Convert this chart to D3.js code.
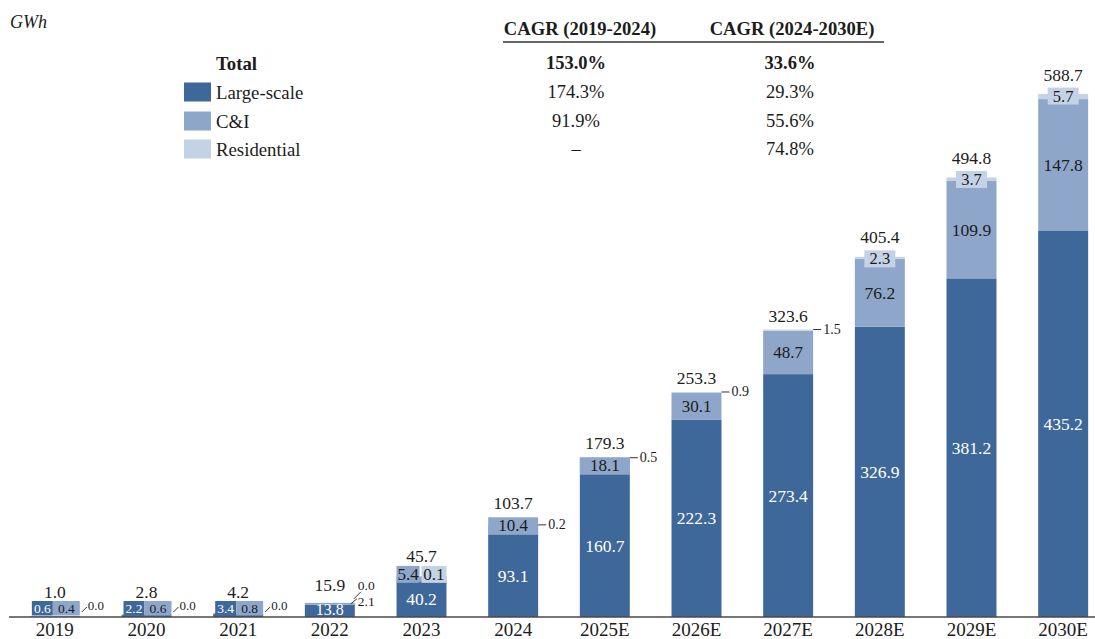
<!DOCTYPE html>
<html>
<head>
<meta charset="utf-8">
<script src="https://cdn.jsdelivr.net/npm/d3@7"></script>
<style>
  html, body { margin: 0; padding: 0; background: #ffffff; }
  svg { display: block; }
</style>
</head>
<body>
<svg id="chart" width="1095" height="639"></svg>
<script>
// Energy storage shipments by segment, GWh
const years = ["2019", "2020", "2021", "2022", "2023", "2024", "2025E", "2026E", "2027E", "2028E", "2029E", "2030E"];
const largeScale = [0.6, 2.2, 3.4, 13.8, 40.2, 93.1, 160.7, 222.3, 273.4, 326.9, 381.2, 435.2];
const cni = [0.4, 0.6, 0.8, 2.1, 5.4, 10.4, 18.1, 30.1, 48.7, 76.2, 109.9, 147.8];
const residential = [0.0, 0.0, 0.0, 0.0, 0.1, 0.2, 0.5, 0.9, 1.5, 2.3, 3.7, 5.7];
const totals = [1.0, 2.8, 4.2, 15.9, 45.7, 103.7, 179.3, 253.3, 323.6, 405.4, 494.8, 588.7];

const legendRows = ["Total", "Large-scale", "C&I", "Residential"];
const cagrHeaders = ["CAGR (2019-2024)", "CAGR (2024-2030E)"];
const cagrEarly = ["153.0%", "174.3%", "91.9%", "–"];
const cagrLate = ["33.6%", "29.3%", "55.6%", "74.8%"];
const unitLabel = "GWh";

const keys = ["large", "cni", "res"];
const colors = { large: "#3e6899", cni: "#8ea6c9", res: "#c4d2e6" };
const FONT = "'Liberation Serif', 'Times New Roman', serif";
const INK = "#1c1c1c";

const table = years.map((yr, i) => ({ year: yr, large: largeScale[i], cni: cni[i], res: residential[i] }));

const svg = d3.select("#chart");
const baseY = 617;

const x = d3.scaleBand().domain(years).range([9, 1109]).paddingInner(0.455).paddingOuter(0.2275);
const y = d3.scaleLinear().domain([0, 600]).range([baseY, 84]);
const bw = x.bandwidth();

// stacked bars
const series = d3.stack().keys(keys)(table);
svg.append("g").selectAll("g").data(series).join("g")
  .attr("fill", d => colors[d.key])
  .selectAll("rect").data(d => d).join("rect")
  .attr("x", d => x(d.data.year))
  .attr("width", bw)
  .attr("y", d => y(d[1]))
  .attr("height", d => Math.max(0, y(d[0]) - y(d[1])));

// x axis: category labels sit just under the baseline
const xAxis = svg.append("g").attr("transform", `translate(0,${baseY})`)
  .call(d3.axisBottom(x).tickSize(0).tickPadding(0));
xAxis.select(".domain").remove();
xAxis.selectAll("text").attr("font-family", FONT).attr("font-size", 19).attr("fill", INK)
  .attr("y", 19).attr("dy", null).attr("dominant-baseline", "auto");
svg.append("line").attr("x1", 9).attr("x2", 1095).attr("y1", baseY).attr("y2", baseY)
  .attr("stroke", "#4a4a4a").attr("stroke-width", 1.6);

const labels = svg.append("g").attr("font-family", FONT);

function text(xp, yp, str, opts = {}) {
  return labels.append("text")
    .attr("x", xp).attr("y", yp)
    .attr("text-anchor", opts.anchor || "middle")
    .attr("dominant-baseline", opts.baseline || "central")
    .attr("font-size", opts.size || 16)
    .attr("font-weight", opts.weight || "normal")
    .attr("fill", opts.fill || INK)
    .text(str);
}
function box(x0, y0, w, h, fill) {
  labels.append("rect").attr("x", x0).attr("y", y0).attr("width", w).attr("height", h).attr("fill", fill);
}
function leader(x1, y1, x2, y2) {
  labels.append("line").attr("x1", x1).attr("y1", y1).attr("x2", x2).attr("y2", y2)
    .attr("stroke", "#333").attr("stroke-width", 1);
}
const fmt = d3.format(".1f");

function mode(i) {
  if (largeScale[i] < 10) return "tiny";
  if (largeScale[i] < 20) return "low";
  if (cni[i] < 8) return "pair";
  if (residential[i] < 2) return "side";
  return "cap";
}

years.forEach((yr, i) => {
  const x0 = x(yr), x1 = x0 + bw, cx = x0 + bw / 2;
  const yTop = y(totals[i]);
  const yLarge = y(largeScale[i]);
  const m = mode(i);
  let topEdge = yTop;

  if (m === "tiny") {
    // values too small to show: side-by-side value chips on the axis
    const mid = x0 + bw * 0.46;
    const bt = baseY - 16, bh = 14.5;
    box(x0 + 2, bt, mid - x0 - 2, bh, colors.large);
    box(mid, bt, x1 - mid, bh, colors.cni);
    text((x0 + 2 + mid) / 2, bt + bh / 2, fmt(largeScale[i]), { size: 13.5, fill: "#fff" });
    text((mid + x1) / 2, bt + bh / 2, fmt(cni[i]), { size: 13.5 });
    leader(x1 + 2, baseY - 5, x1 + 7, baseY - 10);
    text(x1 + 8, baseY - 12, fmt(residential[i]), { size: 13, anchor: "start" });
    text(cx, bt - 3, fmt(totals[i]), { size: 17.5, baseline: "auto" });
    return;
  }

  if (m === "low") {
    text(cx, (yLarge + baseY) / 2 - 1, fmt(largeScale[i]), { size: 16, fill: "#fff" });
    leader(x1 - 4, yTop + 1, x1 + 2, yTop - 4);
    text(x1 + 3, yTop - 1, fmt(cni[i]), { size: 13.5, anchor: "start" });
    leader(x1 - 1, yTop - 4, x1 + 6, yTop - 11);
    text(x1 + 3, yTop - 17, fmt(residential[i]), { size: 13.5, anchor: "start" });
    text(cx, yTop - 12, fmt(totals[i]), { size: 17.5, baseline: "auto" });
    return;
  }

  // large-scale value inside its segment
  text(cx, (yLarge + baseY) / 2, fmt(largeScale[i]), { size: 17.5, fill: "#fff" });

  if (m === "pair") {
    const mid = cx - 1;
    const bt = yTop - 10.5, bh = 17;
    box(x0, bt, mid - 1 - x0, bh, colors.cni);
    box(mid + 1, bt, x1 - mid - 1, bh, colors.res);
    text((x0 + mid - 1) / 2, bt + bh / 2, fmt(cni[i]), { size: 17 });
    text((mid + 1 + x1) / 2, bt + bh / 2, fmt(residential[i]), { size: 17 });
    topEdge = bt + 4;
  } else if (m === "side") {
    const segH = yLarge - y(largeScale[i] + cni[i]);
    const bh = Math.max(segH, 17);
    const bt = yLarge - bh;
    if (segH < 17) box(x0, bt, bw, bh, colors.cni);
    text(cx, bt + bh / 2, fmt(cni[i]), { size: 17 });
    leader(x1, yTop, x1 + 8, yTop);
    text(x1 + 10, yTop, fmt(residential[i]), { size: 14, anchor: "start" });
    topEdge = Math.min(yTop, bt);
  } else {
    const yCni = y(largeScale[i] + cni[i]);
    text(cx, (yCni + yLarge) / 2, fmt(cni[i]), { size: 17.5 });
    const bh = 17, w = 31;
    const bt = yTop + 2 - bh / 2;
    box(cx - w / 2, bt, w, bh, colors.res);
    text(cx, bt + bh / 2, fmt(residential[i]), { size: 16.5 });
    topEdge = bt + 1;
  }
  text(cx, topEdge - 8, fmt(totals[i]), { size: 17.5, baseline: "auto" });
});

// unit
svg.append("text").attr("x", 10).attr("y", 22).attr("dominant-baseline", "central")
  .attr("font-family", FONT).attr("font-size", 18).attr("font-style", "italic").attr("fill", INK)
  .text(unitLabel);

// legend with CAGR table
const rowY = [63, 92, 121, 149];
const legendKeys = [null, "large", "cni", "res"];
const lg = svg.append("g").attr("font-family", FONT).attr("fill", INK);
legendRows.forEach((name, r) => {
  if (legendKeys[r]) {
    lg.append("rect").attr("x", 184).attr("y", rowY[r] - 9.5).attr("width", 27).attr("height", 19)
      .attr("fill", colors[legendKeys[r]]);
  }
  lg.append("text").attr("x", 216).attr("y", rowY[r]).attr("dominant-baseline", "central")
    .attr("font-size", 18.8).attr("font-weight", r === 0 ? "bold" : "normal").text(name);
  lg.append("text").attr("x", 576).attr("y", rowY[r]).attr("dominant-baseline", "central")
    .attr("text-anchor", "middle").attr("font-size", 18.5).attr("font-weight", r === 0 ? "bold" : "normal")
    .text(cagrEarly[r]);
  lg.append("text").attr("x", 790).attr("y", rowY[r]).attr("dominant-baseline", "central")
    .attr("text-anchor", "middle").attr("font-size", 18.5).attr("font-weight", r === 0 ? "bold" : "normal")
    .text(cagrLate[r]);
});
[580, 792].forEach((cxh, k) => {
  lg.append("text").attr("x", cxh).attr("y", 28).attr("dominant-baseline", "central")
    .attr("text-anchor", "middle").attr("font-size", 18.6).attr("font-weight", "bold").text(cagrHeaders[k]);
});
lg.append("line").attr("x1", 503).attr("x2", 884).attr("y1", 42).attr("y2", 42)
  .attr("stroke", "#333").attr("stroke-width", 1.5);
</script>
</body>
</html>
